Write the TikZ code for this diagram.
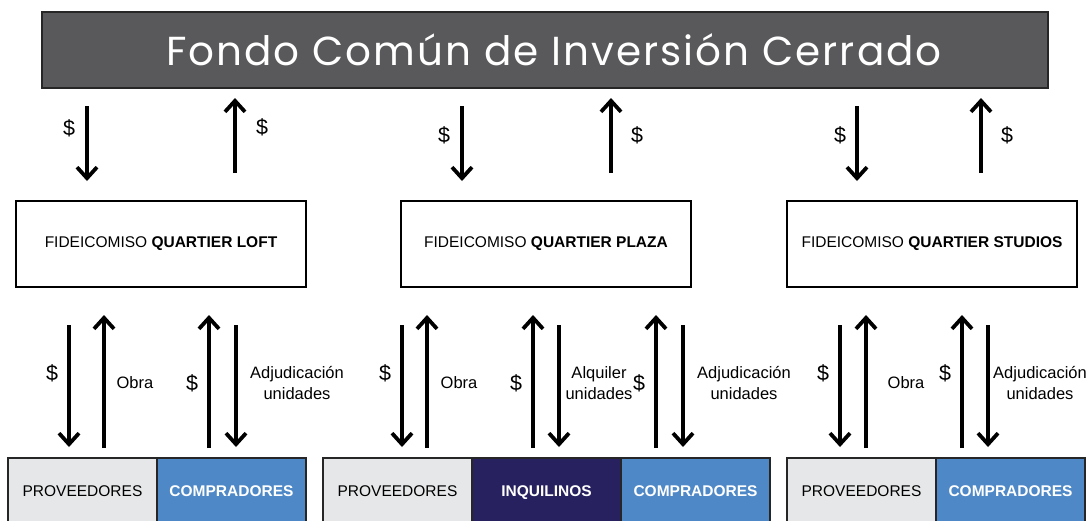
\documentclass[tikz,border=0pt]{standalone}
\usepackage{fontspec}
\setmainfont{Liberation Sans}
\newfontfamily\titlefont[LetterSpace=5]{Poppins}
\usetikzlibrary{arrows.meta}
\definecolor{fundgray}{HTML}{59595B}
\definecolor{provgray}{HTML}{E6E7E8}
\definecolor{inqnavy}{HTML}{27215F}
\definecolor{compblue}{HTML}{4E88C7}
\begin{document}
\begin{tikzpicture}[x=1pt,y=-1pt,
  fundbox/.style={draw=black!85, line width=1.3pt, fill=fundgray, minimum width=1006pt, minimum height=76pt, text=white, font=\titlefont\fontsize{40.5}{42}\selectfont},
  fidbox/.style={draw=black, line width=1.3pt, fill=white, minimum width=290pt, minimum height=86pt, font=\fontsize{15.5}{18}\selectfont},
  partbox/.style={draw=black!85, line width=1.3pt, minimum width=149pt, minimum height=68pt, text height=11.5pt, text depth=3pt, font=\fontsize{15.5}{18}\selectfont},
  lightpart/.style={partbox, fill=provgray, text=black},
  darkpart/.style={partbox, text=white, font=\bfseries\fontsize{15.5}{18}\selectfont},
  arr/.style={line width=3.8pt, -{Straight Barb[length=11pt,width=20pt]}},
  lbl/.style={font=\fontsize{16.5}{21}\selectfont, align=center, inner sep=0pt},
  dol/.style={font=\fontsize{21.5}{24}\selectfont, inner sep=0pt}
]
\useasboundingbox (0,0) rectangle (1091,520);

% top fund
\node[fundbox] (fund) at (545,50) {\hspace*{18pt}Fondo Común de Inversión Cerrado};

% fideicomisos
\node[fidbox] (loft) at (161,244) {FIDEICOMISO \textbf{QUARTIER LOFT}};
\node[fidbox] (plaza) at (546,244) {FIDEICOMISO \textbf{QUARTIER PLAZA}};
\node[fidbox] (studios) at (932,244) {FIDEICOMISO \textbf{QUARTIER STUDIOS}};

% bottom parties
\node[lightpart] (provL) at (82.5,492) {PROVEEDORES};
\node[darkpart, fill=compblue] (compL) at (231.5,492) {COMPRADORES};
\node[lightpart] (provP) at (397.5,492) {PROVEEDORES};
\node[darkpart, fill=inqnavy] (inqP) at (546.5,492) {INQUILINOS};
\node[darkpart, fill=compblue] (compP) at (695.5,492) {COMPRADORES};
\node[lightpart] (provS) at (861.5,492) {PROVEEDORES};
\node[darkpart, fill=compblue] (compS) at (1010.5,492) {COMPRADORES};

% top arrow endpoints
\foreach \n/\dx/\ux in {L/87/235, P/462/611, S/857/981}{
  \coordinate (td\n a) at (\dx,106);
  \coordinate (td\n b) at (\dx,181);
  \coordinate (tu\n a) at (\ux,173);
  \coordinate (tu\n b) at (\ux,98);
}
\foreach \n in {L,P,S}{
  \draw[arr] (td\n a) -- (td\n b);
  \draw[arr] (tu\n a) -- (tu\n b);
}
\node[dol] (tdolL1) at (69,128) {\$};
\node[dol] (tdolL2) at (262,127) {\$};
\node[dol] (tdolP1) at (444,135) {\$};
\node[dol] (tdolP2) at (637,135) {\$};
\node[dol] (tdolS1) at (840,135) {\$};
\node[dol] (tdolS2) at (1007,135) {\$};

% bottom arrows
\foreach \n/\x in {1/69, 2/236, 3/402, 4/559, 5/683, 6/840, 7/988}{
  \coordinate (bd\n a) at (\x,325);
  \coordinate (bd\n b) at (\x,447);
  \draw[arr] (bd\n a) -- (bd\n b);
}
\foreach \n/\x in {1/104, 2/209, 3/427, 4/533, 5/656, 6/866, 7/962}{
  \coordinate (bu\n a) at (\x,448);
  \coordinate (bu\n b) at (\x,315);
  \draw[arr] (bu\n a) -- (bu\n b);
}

% bottom labels
\node[dol] (dL1) at (52,373) {\$};
\node[lbl] (obraL) at (135,383) {Obra};
\node[dol] (dL2) at (192,383) {\$};
\node[lbl] (adjL) at (297,383) {Adjudicación\\unidades};

\node[dol] (dP1) at (385,373) {\$};
\node[lbl] (obraP) at (459,383) {Obra};
\node[dol] (dP2) at (516,383) {\$};
\node[lbl] (alqP) at (599,383) {Alquiler\\unidades};
\node[dol] (dP3) at (639,383) {\$};
\node[lbl] (adjP) at (744,383) {Adjudicación\\unidades};

\node[dol] (dS1) at (823,373) {\$};
\node[lbl] (obraS) at (906,383) {Obra};
\node[dol] (dS2) at (945,373) {\$};
\node[lbl] (adjS) at (1040,383) {Adjudicación\\unidades};
\end{tikzpicture}
\end{document}
